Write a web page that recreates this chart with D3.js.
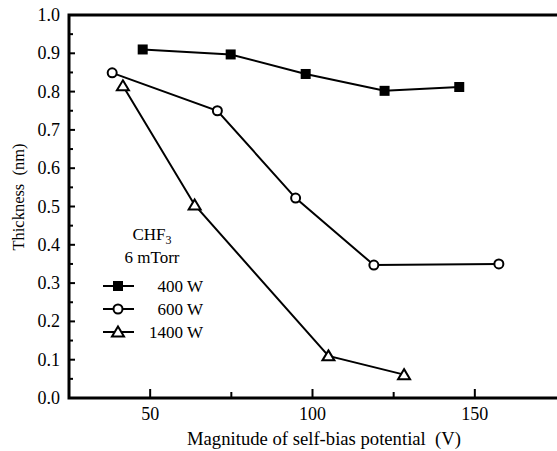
<!DOCTYPE html>
<html>
<head>
<meta charset="utf-8">
<script src="https://cdn.jsdelivr.net/npm/d3@7"></script>
<style>
  body { margin: 0; background: #fff; }
  text { font-family: "Liberation Serif", "DejaVu Serif", serif; fill: #000; }
</style>
</head>
<body>
<div id="chart"></div>
<script>
// Data
const bias400 = [47.7, 74.8, 97.9, 122.2, 145.2];
const thick400 = [0.910, 0.897, 0.846, 0.802, 0.812];

const bias600 = [38.3, 70.7, 94.8, 118.9, 157.4];
const thick600 = [0.849, 0.750, 0.522, 0.347, 0.350];

const bias1400 = [41.6, 63.7, 104.9, 128.2];
const thick1400 = [0.815, 0.504, 0.110, 0.061];

const seriesNames = ["400 W", "600 W", "1400 W"];
const xTicks = [50, 100, 150];
const yTicks = [0.0, 0.1, 0.2, 0.3, 0.4, 0.5, 0.6, 0.7, 0.8, 0.9, 1.0];

const width = 557;
const height = 451;
const margin = { top: 15, right: 1, bottom: 53, left: 69 };

const svg = d3.select("#chart")
    .append("svg")
    .attr("width", width)
    .attr("height", height);

const x = d3.scaleLinear()
    .domain([25, 175])
    .range([margin.left, width - margin.right]);

const y = d3.scaleLinear()
    .domain([0, 1])
    .range([height - margin.bottom, margin.top]);

// Minor ticks (half steps)
const xMinor = [75, 125];
const yMinor = d3.range(0.05, 1, 0.1);

// Ticks point inward
svg.append("g")
    .selectAll("line.xmaj")
    .data(xTicks)
    .enter()
    .append("line")
    .attr("x1", d => x(d)).attr("x2", d => x(d))
    .attr("y1", y(0)).attr("y2", y(0) - 9)
    .attr("stroke", "#000").attr("stroke-width", 2);

svg.append("g")
    .selectAll("line.xmin")
    .data(xMinor)
    .enter()
    .append("line")
    .attr("x1", d => x(d)).attr("x2", d => x(d))
    .attr("y1", y(0)).attr("y2", y(0) - 6)
    .attr("stroke", "#000").attr("stroke-width", 2);

svg.append("g")
    .selectAll("line.ymaj")
    .data(yTicks)
    .enter()
    .append("line")
    .attr("x1", x(25)).attr("x2", x(25) + 6)
    .attr("y1", d => y(d)).attr("y2", d => y(d))
    .attr("stroke", "#000").attr("stroke-width", 2);

svg.append("g")
    .selectAll("line.ymin")
    .data(yMinor)
    .enter()
    .append("line")
    .attr("x1", x(25)).attr("x2", x(25) + 4)
    .attr("y1", d => y(d)).attr("y2", d => y(d))
    .attr("stroke", "#000").attr("stroke-width", 2);

// Frame: left, bottom, top
svg.append("path")
    .attr("d", `M${width},${y(1)}H${x(25)}V${y(0)}H${width}`)
    .attr("fill", "none")
    .attr("stroke", "#000")
    .attr("stroke-width", 3);

// Tick labels
svg.selectAll(".xlab")
    .data(xTicks)
    .enter()
    .append("text")
    .attr("x", d => x(d))
    .attr("y", 420)
    .attr("text-anchor", "middle")
    .attr("font-size", "18px")
    .text(d => d);

svg.selectAll(".ylab")
    .data(yTicks)
    .enter()
    .append("text")
    .attr("x", 60)
    .attr("y", d => y(d) + 6)
    .attr("text-anchor", "end")
    .attr("font-size", "18px")
    .text(d => d.toFixed(1));

// Axis titles
svg.append("text")
    .attr("x", 324)
    .attr("y", 445)
    .attr("text-anchor", "middle")
    .attr("font-size", "18px")
    .attr("xml:space", "preserve")
    .attr("textLength", 274)
    .attr("lengthAdjust", "spacingAndGlyphs")
    .text("Magnitude of self-bias potential  (V)");

svg.append("text")
    .attr("transform", "translate(24,197) rotate(-90)")
    .attr("text-anchor", "middle")
    .attr("font-size", "16.5px")
    .attr("xml:space", "preserve")
    .text("Thickness  (nm)");

// Series
const line = d3.line().x(d => x(d[0])).y(d => y(d[1]));
const series = [
    { pts: d3.zip(bias400, thick400), shape: "square" },
    { pts: d3.zip(bias600, thick600), shape: "circle" },
    { pts: d3.zip(bias1400, thick1400), shape: "triangle" }
];

function drawMarker(g, shape, cx, cy) {
    if (shape === "square") {
        g.append("rect")
            .attr("x", cx - 5).attr("y", cy - 5)
            .attr("width", 10).attr("height", 10)
            .attr("fill", "#000");
    } else if (shape === "circle") {
        g.append("circle")
            .attr("cx", cx).attr("cy", cy).attr("r", 4.5)
            .attr("fill", "#fff").attr("stroke", "#000").attr("stroke-width", 2);
    } else {
        g.append("path")
            .attr("d", `M${cx},${cy - 5.5}L${cx + 6},${cy + 4.5}L${cx - 6},${cy + 4.5}Z`)
            .attr("fill", "#fff").attr("stroke", "#000").attr("stroke-width", 2);
    }
}

series.forEach(s => {
    svg.append("path")
        .attr("d", line(s.pts))
        .attr("fill", "none")
        .attr("stroke", "#000")
        .attr("stroke-width", 2);
    const g = svg.append("g");
    s.pts.forEach(p => drawMarker(g, s.shape, x(p[0]), y(p[1])));
});

// Legend
const legend = svg.append("g");
const chf = legend.append("text")
    .attr("x", 152)
    .attr("y", 240)
    .attr("text-anchor", "middle")
    .attr("font-size", "17px");
chf.append("tspan").text("CHF");
chf.append("tspan").attr("font-size", "12px").attr("dy", 4).text("3");

legend.append("text")
    .attr("x", 152)
    .attr("y", 263)
    .attr("text-anchor", "middle")
    .attr("font-size", "17px")
    .text("6 mTorr");

seriesNames.forEach((name, i) => {
    const ly = 286 + i * 23;
    legend.append("line")
        .attr("x1", 103).attr("x2", 134)
        .attr("y1", ly).attr("y2", ly)
        .attr("stroke", "#000").attr("stroke-width", 2);
    drawMarker(legend, series[i].shape, 118, ly);
    legend.append("text")
        .attr("x", 203)
        .attr("y", ly + 6)
        .attr("text-anchor", "end")
        .attr("font-size", "17px")
        .text(name);
});
</script>
</body>
</html>
